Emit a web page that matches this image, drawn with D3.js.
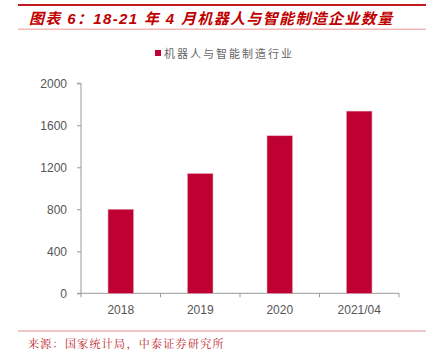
<!DOCTYPE html>
<html><head><meta charset="utf-8">
<script src="https://cdn.jsdelivr.net/npm/d3@7"></script>
<style>
html,body{margin:0;padding:0;background:#fff;}
svg{display:block;}
</style></head>
<body>
<svg id="c" width="426" height="357"></svg>
<script>
const title = "图表 6：18-21 年 4 月机器人与智能制造企业数量";
const seriesName = "机器人与智能制造行业";
const categories = ["2018", "2019", "2020", "2021/04"];
const values = [800, 1140, 1500, 1735];
const yTicks = [0, 400, 800, 1200, 1600, 2000];
const source = "来源：国家统计局，中泰证券研究所";

const svg = d3.select("#c");
const red = "#C00000";
const barColor = "#BE0032";
const cjk = "'Noto Sans CJK SC', sans-serif";

// header lines
svg.append("rect").attr("x", 18).attr("y", 4).attr("width", 408).attr("height", 2).attr("fill", "#C0191F");
svg.append("text").attr("x", 29).attr("y", 24)
  .attr("font-family", "'Liberation Sans', 'Noto Sans CJK SC', sans-serif")
  .attr("font-size", 15).attr("font-weight", "bold").attr("font-style", "italic")
  .attr("letter-spacing", 1.35)
  .attr("fill", red).text(title);
svg.append("rect").attr("x", 18).attr("y", 28.5).attr("width", 408).attr("height", 1.5).attr("fill", "#F2B8B8");

// legend
svg.append("rect").attr("x", 155).attr("y", 50).attr("width", 6).attr("height", 6).attr("fill", barColor);
svg.append("text").attr("x", 164).attr("y", 57.5)
  .attr("font-family", cjk).attr("font-size", 11).attr("letter-spacing", 2.0)
  .attr("fill", "#666").text(seriesName);

const x0 = 81, x1 = 399, yTop = 83.3, yBot = 293.3;
const x = d3.scaleBand().domain(categories).range([x0, x1]).paddingInner(0).paddingOuter(0);
const y = d3.scaleLinear().domain([0, 2000]).range([yBot, yTop]);

// y axis
const yAxis = d3.axisLeft(y).tickValues(yTicks).tickSize(4).tickPadding(10).tickFormat(d3.format("d"));
const gy = svg.append("g").attr("transform", `translate(${x0},0)`).call(yAxis);
gy.select(".domain").attr("stroke", "#999").attr("d", `M-4,${yTop}H0V${yBot}H-4`);
gy.selectAll(".tick line").attr("stroke", "#999");
gy.selectAll("text").attr("font-family", "'Liberation Sans', Arial, sans-serif").attr("font-size", 12).attr("fill", "#555");

// x axis
const xAxis = d3.axisBottom(x).tickSize(0).tickPadding(12);
const gx = svg.append("g").attr("transform", `translate(0,${yBot})`).call(xAxis);
gx.select(".domain").attr("stroke", "#999").attr("d", `M${x0},0H${x1}`);
gx.selectAll("text").attr("font-family", "'Liberation Sans', Arial, sans-serif").attr("font-size", 12).attr("fill", "#555");
// boundary ticks
const bounds = categories.map(c => x(c)).concat([x1]);
gx.selectAll(".bt").data(bounds).enter().append("line")
  .attr("x1", d => d).attr("x2", d => d).attr("y1", 0).attr("y2", 4).attr("stroke", "#999");

// bars
const bw = x.bandwidth() * 0.32;
svg.append("g").selectAll("rect").data(values).enter().append("rect")
  .attr("x", (d, i) => x(categories[i]) + (x.bandwidth() - bw) / 2)
  .attr("y", d => y(d))
  .attr("width", bw)
  .attr("height", d => yBot - y(d))
  .attr("fill", barColor)
  .attr("stroke", "#E8A0B0").attr("stroke-width", 0.5);

// footer
svg.append("rect").attr("x", 18).attr("y", 330.5).attr("width", 408).attr("height", 1).attr("fill", "#E89090");
svg.append("text").attr("x", 28).attr("y", 348)
  .attr("font-family", "'Noto Serif CJK SC', 'AR PL UKai CN', " + cjk).attr("font-size", 11).attr("letter-spacing", 1.3)
  .attr("fill", "#C0191F").text(source);
</script>
</body></html>
